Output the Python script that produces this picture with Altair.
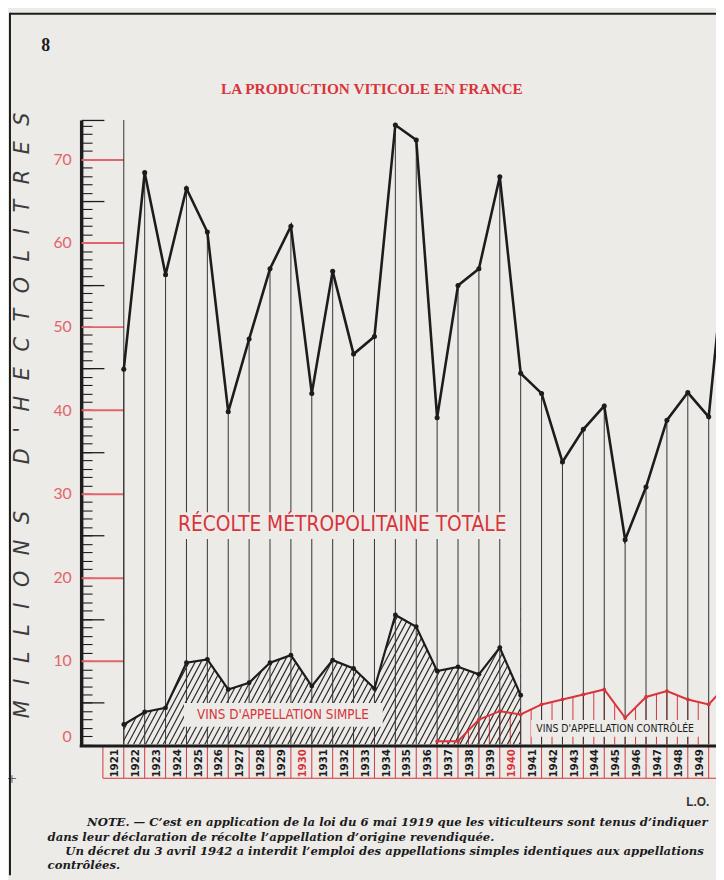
import math
import altair as alt
import numpy as np
import pandas as pd

# ---------------- data ----------------
years = list(range(1921, 1951))
total = [44.9, 68.4, 56.2, 66.5, 61.3, 39.8, 48.5, 56.9, 62.0, 42.0,
         56.6, 46.7, 48.8, 74.1, 72.3, 39.1, 54.9, 56.9, 67.9, 44.4,
         42.0, 33.8, 37.7, 40.5, 24.5, 30.8, 38.8, 42.1, 39.2, 64.0]
simple_years = list(range(1921, 1941))
simple = [2.4, 3.9, 4.4, 9.8, 10.2, 6.6, 7.4, 9.8, 10.7, 7.0,
          10.1, 9.1, 6.7, 15.5, 14.1, 8.8, 9.3, 8.4, 11.6, 5.9]
ctrl_years = list(range(1936, 1951))
ctrl = [0.4, 0.4, 3.0, 4.0, 3.6, 4.8, 5.4, 6.0, 6.6, 3.2, 5.7, 6.4, 5.4, 4.8, 7.5]
label_years = list(range(1921, 1950))
red_label_years = [1930, 1940]
y_label_values = [0, 10, 20, 30, 40, 50, 60, 70]

# ---------------- style / layout ----------------
BG = "#ecebe8"
RED = "#d8343a"
PINK = "#e2646a"
INK = "#1c1c1c"
NARROW = "'DejaVu Sans Condensed', 'Roboto Condensed', 'Liberation Sans Narrow', Roboto, sans-serif"
SERIF = "Liberation Serif"
NOTE_FONT = "DejaVu Serif"

W, H = 642, 631.7
X0, X1 = 1918.96, 1949.35
Y0, Y1 = 0.0, 74.7
OX, OY = 82, 116.3           # page position of the plot origin
PAD = {"left": 74, "top": 108.3, "right": 0, "bottom": 132}

xs = alt.Scale(domain=[X0, X1], nice=False, zero=False)
ys = alt.Scale(domain=[Y0, Y1], nice=False)

df_total = pd.DataFrame({"year": years, "v": total})
df_simple = pd.DataFrame({"year": simple_years, "v": simple})
df_ctrl = pd.DataFrame({"year": ctrl_years, "v": ctrl})
df_labels = pd.DataFrame({"year": label_years})

# diagonal hatching of the "appellation simple" band (style only)
ppy = W / (X1 - X0)
ppu = H / (Y1 - Y0)
tanA = math.tan(math.radians(62))
gap = 6.0
xb = (simple_years[-1] - simple_years[0]) * ppy
ytop = 16.5 * ppu
segs = []
for x0 in np.arange(-ytop / tanA, xb, gap):
    ylo = max(0.0, (0 - x0) * tanA)
    yhi = min(ytop, (xb - x0) * tanA)
    if yhi > ylo:
        segs.append({
            "xa": simple_years[0] + (x0 + ylo / tanA) / ppy, "ya": ylo / ppu,
            "xb": simple_years[0] + (x0 + yhi / tanA) / ppy, "yb": yhi / ppu})
df_hatch = pd.DataFrame(segs)

one = pd.DataFrame({"t": [""]})


def txt(s, px, py, **kw):
    return alt.Chart(pd.DataFrame({"t": [s]})).mark_text(**kw).encode(
        x=alt.value(px - OX), y=alt.value(py - OY), text="t:N")


def box(x1, x2, y1, y2, color=BG):
    return alt.Chart(one).mark_rect(color=color).encode(
        x=alt.value(x1 - OX), x2=alt.value(x2 - OX),
        y=alt.value(y1 - OY), y2=alt.value(y2 - OY))


def hrule(x1, x2, y, color=INK, w=2):
    return alt.Chart(one).mark_rule(color=color, strokeWidth=w).encode(
        x=alt.value(x1 - OX), x2=alt.value(x2 - OX), y=alt.value(y - OY))


def vrule(x, y1, y2, color=INK, w=2):
    return alt.Chart(one).mark_rule(color=color, strokeWidth=w).encode(
        x=alt.value(x - OX), y=alt.value(y1 - OY), y2=alt.value(y2 - OY))


# ---------------- y axes (ticks drawn inward) ----------------
y_main = alt.Axis(values=y_label_values, orient="left", title=None, grid=False,
                  domainColor=INK, domainWidth=3.5, ticks=False,
                  labelColor=PINK, labelFont="Lato", labelFontSize=16,
                  labelPadding=10, labelFlush=True)
y_minor = alt.Axis(values=list(range(0, 75)), orient="left", title=None, grid=False,
                   domain=False, labels=False, tickSize=11, offset=-11,
                   tickColor=INK, tickWidth=1.1)
y_mid = alt.Axis(values=[5, 15, 25, 35, 45, 55, 65, Y1], orient="left", title=None,
                 grid=False, domain=False, labels=False, tickSize=23, offset=-23,
                 tickColor=INK, tickWidth=1.3)
y_major = alt.Axis(values=[10, 20, 30, 40, 50, 60, 70], orient="left", title=None,
                   grid=False, domain=False, labels=False, tickSize=43, offset=-43,
                   tickColor=PINK, tickWidth=2)

X = lambda f="year": alt.X(f"{f}:Q", scale=xs, axis=None)
Y = lambda f="v", ax=None: alt.Y(f"{f}:Q", scale=ys, axis=ax, stack=None)

# ---------------- layers ----------------
red_v = alt.Chart(alt.sequence(1936.5, 1950.6, 1.0, as_="yr")).mark_rule(
    color=RED, strokeWidth=1, clip=True).encode(x=X("yr"), y=alt.value(0), y2=alt.value(H))
red_mask = alt.Chart(df_ctrl).transform_calculate(top="90").mark_area(
    color=BG, opacity=1, clip=True).encode(x=X(), y=Y(), y2="top:Q")
hatch = alt.Chart(df_hatch).mark_rule(color="#262626", strokeWidth=1.15, clip=True).encode(
    x=X("xa"), y=Y("ya"), x2="xb:Q", y2="yb:Q")
simple_mask = alt.Chart(df_simple).transform_calculate(top="90").mark_area(
    color=BG, opacity=1, clip=True).encode(x=X(), y=Y(), y2="top:Q")
red_drops = alt.Chart(df_ctrl).mark_rule(color=RED, strokeWidth=1, clip=True).encode(
    x=X(), y=Y(), y2=alt.datum(0))
drops = alt.Chart(df_total).mark_rule(color="#333333", strokeWidth=1, clip=True).encode(
    x=X(), y=Y(ax=y_minor), y2=alt.datum(0))
frame = alt.Chart(one).transform_calculate(d=str(years[0])).mark_rule(
    color="#333333", strokeWidth=1).encode(x=X("d"), y=alt.value(0), y2=alt.value(H))

total_line = alt.Chart(df_total).mark_line(color=INK, strokeWidth=2.6, clip=True).encode(
    x=X(), y=Y(ax=y_main))
total_pts = alt.Chart(df_total).mark_circle(color=INK, size=26, opacity=1, clip=True).encode(
    x=X(), y=Y())
simple_line = alt.Chart(df_simple).mark_line(color=INK, strokeWidth=2.2, clip=True).encode(
    x=X(), y=Y(ax=y_mid))
simple_pts = alt.Chart(df_simple).mark_circle(color=INK, size=24, opacity=1, clip=True).encode(
    x=X(), y=Y())
ctrl_line = alt.Chart(df_ctrl).mark_line(color=RED, strokeWidth=2, clip=True).encode(
    x=X(), y=Y(ax=y_major))
ctrl_pts = alt.Chart(df_ctrl).mark_circle(color=RED, size=14, opacity=1, clip=True).encode(
    x=X(), y=Y())

# year label strip under the baseline
BOX_TOP, BOX_BOT = 749.5, 782
seps = alt.Chart(alt.sequence(1920, 1950, 1, as_="yr")).mark_rule(
    color=RED, strokeWidth=1).encode(x=X("yr"), y=alt.value(BOX_TOP - OY), y2=alt.value(BOX_BOT - OY))
box_bottom = alt.Chart(one).transform_calculate(d="1920").mark_rule(
    color=RED, strokeWidth=1.2).encode(x=X("d"), x2=alt.value(W), y=alt.value(BOX_BOT - OY))
baseline = hrule(OX - 1.5, OX + W, BOX_TOP, color=INK, w=3)
year_labels = alt.Chart(df_labels).transform_calculate(
    xl="datum.year - 0.42", lab="'' + datum.year").mark_text(
    angle=270, align="right", baseline="middle", font=NARROW, fontSize=11.5,
    fontWeight="bold").encode(
    x=X("xl"), y=alt.value(BOX_TOP + 3 - OY), text="lab:N",
    color=alt.condition(alt.FieldOneOfPredicate(field="year", oneOf=red_label_years),
                        alt.value(RED), alt.value(INK)))

spaced = "\u2002\u2005".join("MILLIONS") + "\u2002\u2003\u2002\u2005" + "\u2002\u2005".join("D'HECTOLITRES")

note_kw = dict(font=NOTE_FONT, fontSize=11.8, fontWeight="bold", fontStyle="italic",
               color=INK, align="left", baseline="middle")

layers = [
    red_v, red_mask, hatch, simple_mask, red_drops, drops, frame,
    box(178, 515, 513, 540), box(186, 387, 706, 730), box(537, 707, 723, 740),
    total_line, simple_line, ctrl_line, total_pts, simple_pts, ctrl_pts,
    seps, box_bottom, baseline, year_labels,
    txt("RÉCOLTE MÉTROPOLITAINE TOTALE", 346, 526, font=NARROW, fontSize=21,
        color=RED, align="center", baseline="middle"),
    txt("VINS D'APPELLATION SIMPLE", 286, 718, font=NARROW, fontSize=13.5,
        color=RED, align="center", baseline="middle"),
    txt("VINS D'APPELLATION CONTRÔLÉE", 622, 732, font=NARROW, fontSize=10.5,
        color=INK, align="center", baseline="middle"),
    txt("LA PRODUCTION VITICOLE EN FRANCE", 376, 85, font=SERIF, fontSize=15.5,
        fontWeight="bold", color=RED, align="center", baseline="middle"),
    txt("8", 46, 42, font=SERIF, fontSize=18, fontWeight="bold", color=INK,
        align="center", baseline="middle"),
    txt(spaced, 23, 415, font="DejaVu Sans", fontSize=21, fontStyle="italic",
        color="#3c3c3c", angle=270, align="center", baseline="middle"),
    txt("L.O.", 694, 806, font="Liberation Sans", fontSize=12, fontWeight="bold",
        color="#333333", align="left", baseline="middle"),
    txt("+", 12, 783, font="DejaVu Sans", fontSize=13, color="#666666",
        align="center", baseline="middle"),
    txt("NOTE. — C’est en application de la loi du 6 mai 1919 que les viticulteurs sont tenus d’indiquer",
        88, 826, **note_kw),
    txt("dans leur déclaration de récolte l’appellation d’origine revendiquée.",
        48, 841, **note_kw),
    txt("Un décret du 3 avril 1942 a interdit l’emploi des appellations simples identiques aux appellations",
        66, 856, **note_kw),
    txt("contrôlées.", 48, 870, **note_kw),
    vrule(10, 8, 880, w=2),
    hrule(10, 724, 9, w=2),
]

chart = alt.layer(*layers).resolve_axis(y="independent").properties(
    width=W, height=H, padding=PAD,
    autosize=alt.AutoSizeParams(type="none"), background=BG,
).configure_view(strokeWidth=0)

chart.save("out.html", embed_options={"renderer": "svg", "actions": False})
